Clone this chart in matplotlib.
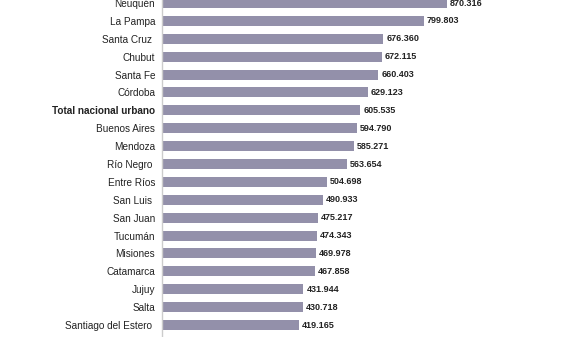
import matplotlib
matplotlib.use("Agg")
import matplotlib.pyplot as plt

provincias = ["Neuquén", "La Pampa", "Santa Cruz ", "Chubut", "Santa Fe", "Córdoba",
              "Total nacional urbano", "Buenos Aires", "Mendoza", "Río Negro ",
              "Entre Ríos", "San Luis ", "San Juan", "Tucumán", "Misiones",
              "Catamarca", "Jujuy", "Salta", "Santiago del Estero "]
valores = [870.316, 799.803, 676.360, 672.115, 660.403, 629.123, 605.535, 594.790,
           585.271, 563.654, 504.698, 490.933, 475.217, 474.343, 469.978,
           467.858, 431.944, 430.718, 419.165]
etiquetas = ["870.316", "799.803", "676.360", "672.115", "660.403", "629.123",
             "605.535", "594.790", "585.271", "563.654", "504.698", "490.933",
             "475.217", "474.343", "469.978", "467.858", "431.944", "430.718",
             "419.165"]

plt.rcParams['font.family'] = ['Liberation Sans', 'DejaVu Sans']

fig = plt.figure(figsize=(5.70, 3.37), dpi=100)
ax = fig.add_axes([162 / 570, 0, 1 - 162 / 570, 1])

pos = list(range(len(provincias)))
ax.barh(pos, valores, height=0.56, color="#9390aa", edgecolor="none")

ax.set_xlim(0, 1246)
ax.set_ylim(18.67, -0.17)

for y, v, t in zip(pos, valores, etiquetas):
    ax.text(v + 9, y, t, va="center", ha="left", fontsize=6.5,
            fontweight="bold", color="#222222")

ax.set_yticks(pos)
ax.set_yticklabels(provincias, fontsize=7.2, color="#222222")
for lbl in ax.get_yticklabels():
    if lbl.get_text() == "Total nacional urbano":
        lbl.set_fontweight("bold")
ax.tick_params(axis="y", length=0, pad=5)
ax.set_xticks([])

for s in ["top", "right", "bottom"]:
    ax.spines[s].set_visible(False)
ax.spines["left"].set_color("#cccccc")
ax.spines["left"].set_linewidth(1.0)

fig.savefig("out.png", dpi=100)
